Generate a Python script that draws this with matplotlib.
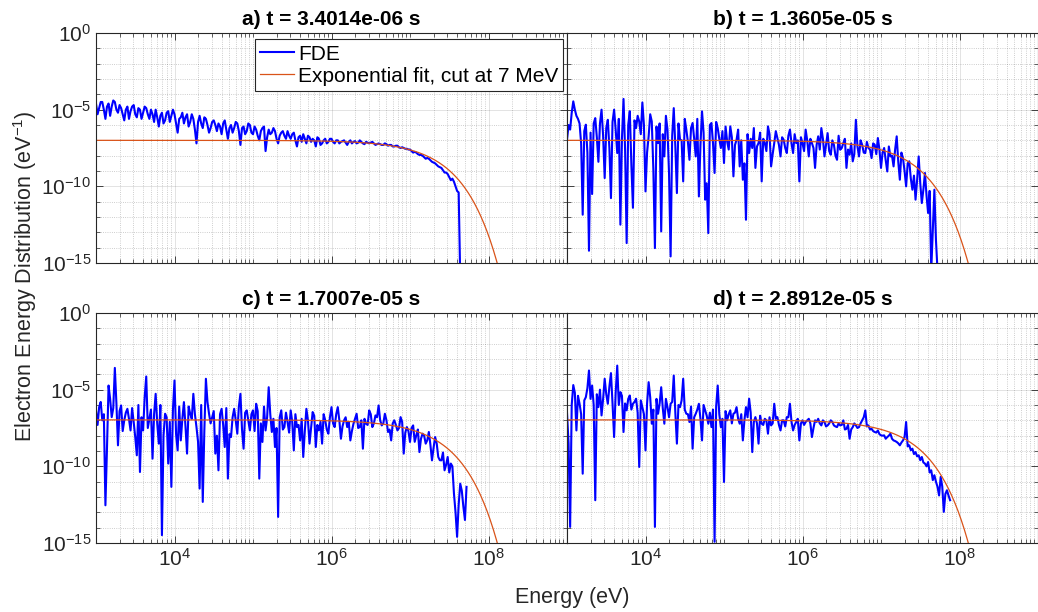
import numpy as np
import matplotlib
matplotlib.use('Agg')
import matplotlib.pyplot as plt
from matplotlib.ticker import NullFormatter, LogFormatterSciNotation

plt.rcParams['font.family'] = ['Liberation Sans', 'DejaVu Sans']
plt.rcParams['axes.unicode_minus'] = False

# Panel titles
titles = ["a) t = 3.4014e-06 s", "b) t = 1.3605e-05 s",
          "c) t = 1.7007e-05 s", "d) t = 2.8912e-05 s"]

# FDE values as log10(eV^-1). Energy bins start at 1e3 eV, 0.02 decade apart;
# fde_x holds the even bins, fde_x_mid the bins in between.
log_e_start = 3.0
log_e_step = 0.02

fde_a = [-4.6, -4.9, -4.5, -5.6, -4.6, -4.8, -4.5, -5.2, -4.9, -5.7,
         -4.8, -5.1, -4.7, -5.5, -5.0, -5.2, -4.9, -5.6, -5.3, -5.0,
         -6.1, -5.2, -5.7, -5.1, -5.4, -5.3, -6.5, -5.5, -5.9, -5.3,
         -5.8, -5.6, -7.2, -5.4, -6.2, -5.6, -6.5, -5.8, -6.0, -5.9,
         -6.6, -5.7, -6.9, -6.0, -6.2, -5.9, -7.3, -6.1, -6.4, -6.0,
         -6.6, -6.3, -7.0, -6.2, -7.7, -6.3, -6.5, -6.4, -7.2, -6.5,
         -6.7, -6.4, -6.9, -6.5, -7.4, -6.7, -6.6, -7.2, -6.8, -6.9,
         -7.4, -6.9, -7.2, -6.9, -7.1, -6.9, -7.2, -7.0, -7.1, -7.0,
         -7.3, -7.0, -7.1, -7.2, -7.0, -7.2, -7.1, -7.2, -7.1, -7.3,
         -7.2, -7.3, -7.2, -7.35, -7.3, -7.4, -7.35, -7.5, -7.5, -7.55,
         -7.6, -7.8, -7.8, -7.95, -8.0, -8.2, -8.2, -8.4, -8.5, -8.7,
         -8.8, -9.1, -9.2, -9.6, -9.7, -10.3, -16.0]
fde_a_mid = [-5.3, -4.5, -5.0, -4.8, -5.4, -4.4, -5.0, -4.7, -5.3, -5.0,
             -5.6, -4.8, -5.3, -4.9, -5.6, -4.8, -5.3, -5.0, -5.8, -5.5,
             -5.4, -5.9, -5.2, -5.8, -5.0, -5.9, -5.6, -5.2, -5.5, -6.1,
             -5.3, -6.3, -5.8, -5.9, -5.5, -6.0, -6.2, -5.7, -6.4, -6.1,
             -5.9, -6.3, -6.2, -6.5, -5.8, -6.4, -6.2, -6.6, -5.9, -6.5,
             -6.1, -6.7, -6.4, -6.1, -6.8, -6.6, -6.2, -6.9, -6.7, -6.4,
             -6.9, -6.7, -6.6, -7.0, -6.8, -7.1, -6.9, -6.7, -7.1, -7.0,
             -6.8, -7.3, -7.0, -7.2, -6.9, -7.1, -7.0, -7.2, -7.05, -7.15,
             -7.1, -7.2, -7.05, -7.15, -7.1, -7.25, -7.15, -7.15, -7.2, -7.25,
             -7.25, -7.3, -7.25, -7.3, -7.4, -7.35, -7.45, -7.45, -7.55, -7.6,
             -7.7, -7.75, -7.9, -7.95, -8.1, -8.15, -8.3, -8.45, -8.6, -8.75,
             -8.95, -9.1, -9.4, -9.5, -10.0, -10.4]

fde_b = [-6.96, -6.3, -4.46, -5.4, -5.9, -11.85, -5.98, -14.2, -10.5, -5.55,
         -8.4, -5.0, -9.46, -5.66, -10.77, -5.0, -7.83, -12.5, -4.3, -13.7,
         -5.1, -11.4, -6.2, -5.77, -4.53, -10.33, -6.74, -5.77, -14.03, -7.18,
         -12.94, -8.05, -6.3, -14.57, -4.9, -10.44, -6.96, -9.68, -6.3, -8.27,
         -5.87, -8.05, -10.66, -5.11, -10.87, -13.05, -5.87, -9.13, -6.2, -7.5,
         -8.48, -7.07, -6.09, -9.35, -6.96, -8.7, -9.57, -12.18, -7.83, -7.5,
         -8.8, -7.18, -9.68, -7.18, -6.09, -8.7, -7.18, -6.85, -8.05, -6.96,
         -7.83, -6.3, -7.83, -7.18, -9.68, -7.18, -6.3,
         -8.05, -7.18, -8.8, -6.74, -6.2, -8.05, -6.53, -7.94, -7.29, -8.27,
         -7.61, -7.18, -8.8, -7.94, -8.37, -5.66, -8.05, -7.29, -7.83, -7.5,
         -8.16, -7.29, -6.85, -8.8, -7.5, -9.03, -8.05, -8.7, -6.74, -9.57,
         -8.16, -10.0, -8.37, -10.22, -10.87, -8.05, -11.09, -9.13, -11.74, -15.5,
         -10.22, -15.5]
fde_b_mid = [-6.0, -5.2, -5.0, -5.6, -7.2, -6.4, -7.8, -6.5, -5.9, -6.8,
             -5.9, -6.7, -6.2, -7.5, -5.8, -6.3, -5.6, -6.9, -7.6, -6.0,
             -8.6, -5.7, -5.4, -6.6, -6.0, -7.8, -5.3, -8.9, -6.1, -5.9,
             -6.6, -5.4, -9.2, -6.7, -7.4, -5.9, -7.0, -5.6, -7.1, -6.2,
             -6.9, -5.6, -7.3, -6.5, -9.8, -6.0, -7.2, -5.8, -6.9, -6.4,
             -6.1, -7.6, -6.8, -7.3, -6.3, -7.0, -8.5, -6.6, -6.9, -6.2,
             -7.4, -6.5, -6.9, -7.7, -6.6, -7.9, -6.4, -7.3, -6.8, -7.5,
             -6.7, -7.2, -6.6, -7.0, -6.8, -7.7, -7.0, -6.9, -7.5, -7.3,
             -7.6, -6.9, -7.3, -7.7, -7.0, -8.0, -6.7, -7.5, -6.9, -7.6,
             -7.2, -7.9, -7.4, -7.0, -7.8, -7.1, -7.6, -7.2, -7.9, -7.6,
             -7.8, -8.3, -7.4, -8.0, -7.6, -8.4, -7.8, -9.0, -8.5, -9.5,
             -9.3, -9.6, -9.8, -10.2, -10.6, -10.3, -12.8, -13.5]

fde_c = [-6.35, -6.14, -7.0, -12.54, -4.73, -6.79, -3.58, -8.63, -6.03, -7.0,
         -6.25, -7.66, -7.11, -9.28, -10.37, -7.66, -4.14, -6.9, -9.5, -5.27,
         -8.52, -14.49, -6.57, -9.82, -11.34, -4.4, -8.96, -8.31, -5.81, -9.17,
         -6.57, -5.27, -7.44, -11.45, -12.32, -4.29, -6.57, -6.79, -9.17, -10.26,
         -6.25, -8.74, -10.8, -8.09, -6.25, -7.87, -5.27, -8.85, -6.35, -7.66,
         -6.35, -5.92, -10.8, -8.41, -7.66, -4.84, -7.76, -8.74, -13.3, -6.35,
         -7.44, -7.11, -6.35, -8.96, -7.44, -8.31, -9.39, -6.25, -8.52, -6.46,
         -8.74, -7.66, -8.52, -7.0, -7.87, -6.14, -7.44,
         -6.14, -8.2, -7.0, -7.44, -8.31, -7.22, -6.57, -7.44, -8.85, -7.22,
         -6.35, -7.44, -6.68, -6.03, -7.33, -6.57, -7.76, -8.31, -7.0, -7.66,
         -6.79, -9.17, -7.44, -8.41, -7.33, -7.98, -9.07, -7.87, -8.52, -7.76,
         -9.61, -8.09, -9.39, -9.61, -10.26, -9.39, -9.82, -11.78, -14.6, -11.13,
         -12.64, -11.34]
fde_c_mid = [-7.3, -5.8, -6.6, -8.8, -5.6, -6.2, -5.9, -6.4, -7.7, -6.5,
             -6.9, -6.2, -8.1, -6.0, -6.8, -5.5, -7.5, -6.3, -6.6, -7.2,
             -6.0, -8.0, -6.8, -7.1, -6.3, -7.9, -6.1, -6.9, -7.4, -6.1,
             -6.9, -6.6, -8.4, -6.0, -7.7, -5.8, -7.2, -6.4, -8.0, -6.6,
             -7.3, -6.2, -7.9, -6.8, -7.0, -6.1, -7.6, -6.5, -7.0, -6.6,
             -7.7, -6.4, -7.2, -6.1, -6.8, -6.6, -6.9, -7.5, -6.8, -7.6,
             -6.5, -7.8, -7.1, -6.6, -7.3, -6.9, -7.7, -7.0, -7.5, -6.7,
             -7.3, -7.1, -6.6, -7.6, -6.8, -7.2, -6.6, -7.0, -7.4, -6.8,
             -7.1, -7.7, -6.9, -7.5, -7.0, -6.9, -7.3, -6.6, -7.2, -6.8,
             -7.0, -7.2, -7.0, -7.6, -7.2, -7.3, -7.5, -7.1, -7.8, -7.7,
             -7.5, -8.4, -7.6, -8.2, -8.0, -8.3, -8.6, -8.8, -8.5, -9.6,
             -9.1, -9.9, -10.4, -10.0, -13.0, -12.5, -11.6, -13.5]

fde_d = [-6.5, -13.95, -4.7, -7.66, -5.92, -10.48, -5.49, -3.75, -4.73, -12.21,
         -6.14, -6.68, -4.29, -5.92, -3.92, -8.09, -3.43, -5.16, -7.76, -6.35,
         -5.38, -5.92, -5.59, -10.04, -6.14, -8.96, -4.51, -7.22, -13.95, -6.57,
         -4.84, -7.22, -6.14, -5.92, -4.08, -8.52, -6.14, -4.29, -6.57, -7.11,
         -8.85, -6.57, -5.92, -8.31, -6.35, -7.22, -7.44, -14.92, -4.73, -7.44,
         -11.02, -7.0, -6.35, -6.57, -6.14, -7.22, -8.31, -6.14, -5.59, -9.07,
         -6.79, -8.52, -7.22, -6.9, -7.87, -7.33, -5.92, -6.79, -7.66, -7.0,
         -6.79, -5.92, -7.66, -7.11, -8.31, -7.0, -7.11,
         -6.9, -8.09, -7.0, -6.9, -7.33, -7.11, -7.33, -7.0, -7.33, -7.44,
         -7.33, -7.0, -7.55, -8.2, -7.44, -7.33, -7.44, -7.0, -6.35, -7.33,
         -7.55, -7.76, -7.66, -7.98, -7.98, -8.09, -7.87, -8.31, -8.41, -8.63,
         -8.31, -7.11, -8.63, -8.85, -9.07, -9.28, -9.39, -9.82, -9.72, -10.26,
         -10.58, -11.34, -10.69, -12.97, -11.56, -12.21]
fde_d_mid = [-8.5, -6.0, -5.2, -5.4, -6.6, -5.7, -4.9, -5.6, -6.0, -5.3,
             -5.0, -5.6, -5.3, -4.8, -5.9, -5.2, -6.0, -5.4, -5.9, -5.6,
             -6.3, -5.8, -6.5, -5.7, -6.6, -5.9, -5.5, -6.3, -5.6, -5.9,
             -6.2, -5.6, -6.8, -5.8, -6.5, -6.0, -5.7, -6.3, -6.6, -6.1,
             -6.8, -6.3, -6.9, -6.0, -6.7, -6.5, -6.3, -6.1, -6.6, -6.9,
             -6.4, -6.6, -7.2, -6.5, -6.9, -6.6, -7.0, -6.8, -6.5, -7.1,
             -7.2, -6.7, -7.3, -7.0, -6.8, -7.2, -6.9, -7.3, -7.0, -7.4,
             -6.8, -7.1, -7.3, -6.9, -7.2, -7.3, -7.0, -7.2, -7.5, -7.1,
             -7.2, -7.0, -7.4, -7.2, -7.1, -7.4, -7.2, -7.3, -7.6, -7.3,
             -7.6, -7.2, -7.5, -7.2, -6.8, -7.4, -7.6, -7.7, -7.8, -7.9,
             -8.0, -8.2, -8.0, -8.2, -8.35, -8.5, -8.45, -8.1, -8.7, -8.95,
             -9.2, -9.35, -9.6, -9.75, -10.0, -10.4, -10.9, -11.0, -11.9, -11.3,
             -11.8, -11.9]

fde_even = [fde_a, fde_b, fde_c, fde_d]
fde_odd = [fde_a_mid, fde_b_mid, fde_c_mid, fde_d_mid]

# Exponential fit parameters (amplitude in eV^-1, temperature in eV)
fit_amp = [1.0e-7, 1.0e-7, 1.07e-7, 1.07e-7]
fit_temp = 7.0e6

fde_color = (0, 0, 1)
fit_color = '#D95319'
axis_color = '0.15'

fig = plt.figure(figsize=(10.38, 6.12), dpi=100)

W, H = 471 / 1038, 230 / 612
positions = [(96 / 1038, 1 - 263 / 612), (567 / 1038, 1 - 263 / 612),
             (96 / 1038, 1 - 543 / 612), (567 / 1038, 1 - 543 / 612)]

x_major = [1e4, 1e6, 1e8]
x_minor = [k * 10.0 ** n for n in range(3, 9) for k in range(1, 10)
           if k * 10.0 ** n not in x_major] + [1e9]
y_major = [1e-15, 1e-10, 1e-5, 1e0]
y_minor = [10.0 ** n for n in range(-15, 1) if n % 5 != 0]

fit_e = np.logspace(3, 8.3, 400)

for i, (left, bottom) in enumerate(positions):
    ax = fig.add_axes([left, bottom, W, H])
    vals = np.empty(len(fde_even[i]) + len(fde_odd[i]))
    vals[0::2] = fde_even[i]
    vals[1::2] = fde_odd[i]
    energy = 10 ** (log_e_start + log_e_step * np.arange(len(vals)))
    ax.plot(energy, 10 ** vals, color=fde_color, lw=1.5, label='FDE')
    ax.plot(fit_e, fit_amp[i] * np.exp(-fit_e / fit_temp), color=fit_color, lw=0.9,
            label='Exponential fit, cut at 7 MeV')

    ax.set_xscale('log')
    ax.set_yscale('log')
    ax.set_xlim(1e3, 1e9)
    ax.set_ylim(1e-15, 1e0)
    ax.set_xticks(x_major)
    ax.set_xticks(x_minor, minor=True)
    ax.set_yticks(y_major)
    ax.set_yticks(y_minor, minor=True)
    ax.xaxis.set_major_formatter(LogFormatterSciNotation())
    ax.yaxis.set_major_formatter(LogFormatterSciNotation())
    ax.xaxis.set_minor_formatter(NullFormatter())
    ax.yaxis.set_minor_formatter(NullFormatter())

    ax.grid(True, which='major', color='0.15', alpha=0.15, lw=0.6)
    ax.grid(True, which='minor', color='0.15', alpha=0.3, lw=0.6, ls=':')
    ax.tick_params(which='both', direction='in', top=True, right=True,
                   colors=axis_color, labelsize=15)
    ax.tick_params(which='major', length=5, width=0.6)
    ax.tick_params(which='minor', length=3, width=0.5)
    for sp in ax.spines.values():
        sp.set_color(axis_color)
        sp.set_linewidth(0.8)

    if i < 2:
        ax.tick_params(labelbottom=False)
    if i % 2 == 1:
        ax.tick_params(labelleft=False)

    ax.set_title(titles[i], fontsize=15, fontweight='bold', pad=6)

    if i == 0:
        leg = ax.legend(loc='upper right', bbox_to_anchor=(0.992, 0.972),
                        borderaxespad=0, fontsize=15, fancybox=False,
                        framealpha=1, edgecolor='0.15', handlelength=1.6,
                        borderpad=0.25, labelspacing=0.15, handletextpad=0.2)
        leg.get_frame().set_linewidth(0.8)

fig.text(0.024, 0.549, 'Electron Energy Distribution (eV$^{\\mathdefault{-1}}$)',
         rotation=90, ha='center', va='center', fontsize=15.5, color=axis_color)
fig.text(0.551, 0.024, 'Energy (eV)', ha='center', va='center',
         fontsize=15.5, color=axis_color)

fig.savefig('out.png', dpi=100)
